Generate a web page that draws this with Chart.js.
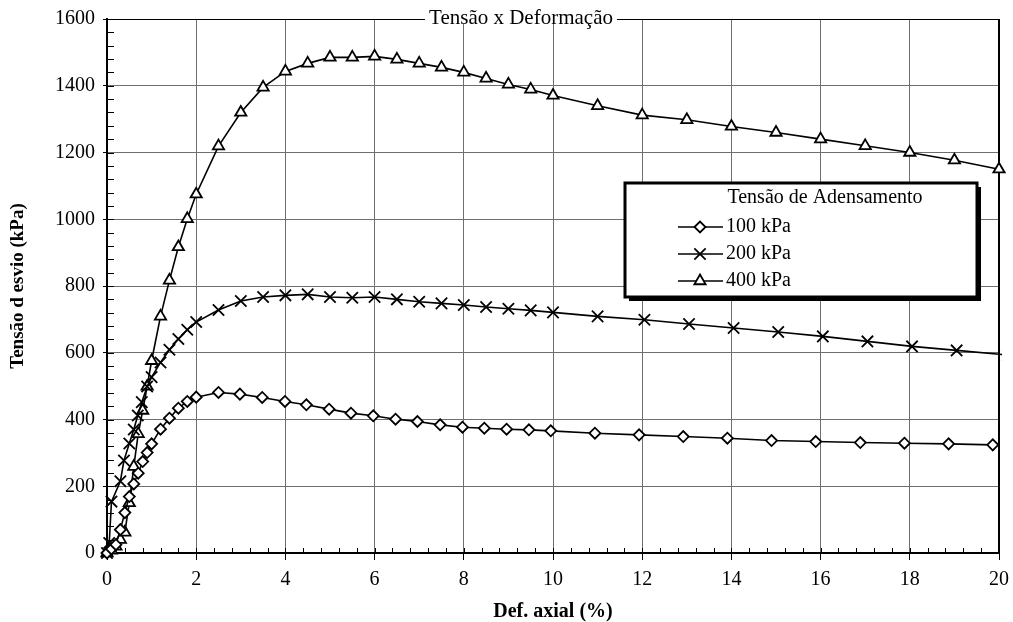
<!DOCTYPE html>
<html>
<head>
<meta charset="utf-8">
<script src="https://cdn.jsdelivr.net/npm/chart.js@4.4.1/dist/chart.umd.min.js"></script>
<style>
  html, body { margin: 0; padding: 0; background: #fff; }
  #grafico { display: block; }
</style>
</head>
<body>
<canvas id="grafico" width="1013" height="622"></canvas>
<script>
// Ensaio triaxial - tensão desvio x deformação axial
const def100 = [0, 0.1, 0.2, 0.3, 0.4, 0.5, 0.6, 0.7, 0.8, 0.9, 1.0, 1.2, 1.4, 1.6, 1.8, 2.0, 2.5, 2.98, 3.48, 3.99, 4.47, 4.98, 5.47, 5.97, 6.47, 6.96, 7.47, 7.97, 8.46, 8.96, 9.46, 9.95, 10.94, 11.93, 12.92, 13.91, 14.9, 15.89, 16.89, 17.88, 18.87, 19.86];
const ten100 = [0, 12, 25, 70, 121, 169, 207, 239, 274, 301, 327, 371, 404, 434, 454, 467, 481, 476, 466, 454, 444, 431, 419, 411, 401, 394, 384, 377, 374, 371, 369, 366, 359, 354, 349, 344, 337, 334, 331, 329, 327, 324];

const def200 = [0, 0.05, 0.1, 0.3, 0.38, 0.5, 0.6, 0.69, 0.78, 0.9, 1.0, 1.2, 1.4, 1.6, 1.8, 2.0, 2.5, 3.0, 3.5, 4.0, 4.5, 5.0, 5.5, 6.0, 6.5, 7.0, 7.5, 8.0, 8.5, 9.0, 9.5, 10.0, 11.0, 12.05, 13.05, 14.05, 15.05, 16.05, 17.05, 18.05, 19.05, 20.2];
const ten200 = [0, 30, 154, 215, 277, 328, 370, 412, 452, 499, 527, 571, 609, 641, 669, 692, 728, 755, 767, 772, 775, 767, 765, 767, 760, 753, 748, 743, 737, 732, 727, 721, 709, 699, 686, 674, 662, 649, 634, 619, 607, 593];

const def400 = [0, 0.1, 0.2, 0.3, 0.4, 0.5, 0.6, 0.7, 0.8, 0.9, 1.0, 1.2, 1.4, 1.6, 1.8, 2.0, 2.5, 3.0, 3.5, 4.0, 4.5, 5.0, 5.5, 6.0, 6.5, 7.0, 7.5, 8.0, 8.5, 9.0, 9.5, 10.0, 11.0, 12.0, 13.0, 14.0, 15.0, 16.0, 17.0, 18.0, 19.0, 20.0];
const ten400 = [0, 8, 20, 40, 62, 150, 259, 357, 427, 499, 576, 709, 817, 917, 1001, 1075, 1219, 1320, 1395, 1443, 1467, 1485, 1485, 1488, 1479, 1467, 1455, 1440, 1422, 1404, 1389, 1371, 1340, 1312, 1298, 1278, 1260, 1240, 1220, 1200, 1177, 1150];

const nomes = ['100 kPa', '200 kPa', '400 kPa'];
const titulo = 'Tensão x Deformação';
const tituloLegenda = 'Tensão de Adensamento';

const fonte = '"Liberation Serif", "Times New Roman", serif';

function pares(xs, ys) {
  return xs.map((v, i) => ({ x: v, y: ys[i] }));
}

// tracinhos menores dos eixos + moldura superior/direita
const ticksMenores = {
  id: 'ticksMenores',
  beforeDatasetsDraw(chart) {
    const { ctx, chartArea: a, scales: { x, y } } = chart;
    ctx.save();
    ctx.strokeStyle = '#000';
    ctx.lineWidth = 1;
    ctx.beginPath();
    for (let i = 0; i <= 50; i++) {
      const px = Math.round(x.getPixelForValue(i * 0.4)) + 0.5;
      ctx.moveTo(px, a.bottom);
      ctx.lineTo(px, a.bottom - 5);
    }
    for (let i = 0; i <= 40; i++) {
      const py = Math.round(y.getPixelForValue(i * 40)) + 0.5;
      ctx.moveTo(a.left, py);
      ctx.lineTo(a.left + 7, py);
    }
    ctx.stroke();
    ctx.beginPath();
    ctx.moveTo(a.left, a.top + 0.5);
    ctx.lineTo(a.right, a.top + 0.5);
    ctx.stroke();
    ctx.lineWidth = 2;
    ctx.beginPath();
    ctx.moveTo(a.right, a.top);
    ctx.lineTo(a.right, a.bottom + 1);
    ctx.stroke();
    ctx.restore();
  }
};

function desenhaMarcador(ctx, ds, x, y) {
  ctx.fillStyle = '#fff';
  ctx.strokeStyle = '#000';
  ctx.lineWidth = ds.pointBorderWidth;
  Chart.helpers.drawPoint(ctx, {
    pointStyle: ds.pointStyle,
    radius: ds.pointRadius,
    rotation: 0,
    borderWidth: ds.pointBorderWidth
  }, x, y);
}

// caixa de legenda com sombra
const legendaCaixa = {
  id: 'legendaCaixa',
  afterDatasetsDraw(chart) {
    const ctx = chart.ctx;
    const bx = 625, by = 183, bw = 352, bh = 114;
    ctx.save();
    ctx.fillStyle = '#000';
    ctx.fillRect(bx + 4, by + 4, bw, bh);
    ctx.fillStyle = '#fff';
    ctx.fillRect(bx, by, bw, bh);
    ctx.lineWidth = 3;
    ctx.strokeStyle = '#000';
    ctx.strokeRect(bx, by, bw, bh);

    ctx.fillStyle = '#000';
    ctx.font = '20px ' + fonte;
    ctx.textAlign = 'center';
    ctx.textBaseline = 'middle';
    ctx.fillText(tituloLegenda, 825, 198);

    chart.data.datasets.forEach((ds, i) => {
      const ly = 227 + i * 27;
      ctx.strokeStyle = '#000';
      ctx.lineWidth = 1.6;
      ctx.beginPath();
      ctx.moveTo(678, ly);
      ctx.lineTo(723, ly);
      ctx.stroke();
      desenhaMarcador(ctx, ds, 700, ly);
      ctx.fillStyle = '#000';
      ctx.textAlign = 'left';
      ctx.fillText(ds.label, 726, ly);
    });
    ctx.restore();
  }
};

// título sobre a borda superior
const tituloBorda = {
  id: 'tituloBorda',
  afterDraw(chart) {
    const ctx = chart.ctx;
    ctx.save();
    ctx.font = '21px ' + fonte;
    const w = ctx.measureText(titulo).width;
    const cx = 521, cy = chart.chartArea.top;
    ctx.fillStyle = '#fff';
    ctx.fillRect(cx - w / 2 - 4, cy - 13, w + 8, 18);
    ctx.fillStyle = '#000';
    ctx.textAlign = 'center';
    ctx.textBaseline = 'middle';
    ctx.fillText(titulo, cx, cy - 1);
    ctx.restore();
  }
};

const estiloBase = {
  borderColor: '#000',
  borderWidth: 1.6,
  pointBackgroundColor: '#fff',
  pointBorderColor: '#000',
  pointBorderWidth: 1.8,
  pointHoverRadius: 5,
  tension: 0,
  fill: false
};

const ctx = document.querySelector('#grafico');

new Chart(ctx, {
  type: 'line',
  data: {
    datasets: [
      Object.assign({}, estiloBase, {
        label: nomes[0],
        data: pares(def100, ten100),
        pointStyle: 'rectRot',
        pointRadius: 5.5,
        clip: false
      }),
      Object.assign({}, estiloBase, {
        label: nomes[1],
        data: pares(def200, ten200),
        pointStyle: 'crossRot',
        pointRadius: 8,
        clip: { left: 10, top: 10, right: 3, bottom: 10 }
      }),
      Object.assign({}, estiloBase, {
        label: nomes[2],
        data: pares(def400, ten400),
        pointStyle: 'triangle',
        pointRadius: 6.5,
        clip: false
      })
    ]
  },
  options: {
    responsive: false,
    animation: false,
    layout: { padding: { left: 0, right: 14, top: 19, bottom: 0 } },
    plugins: {
      legend: { display: false },
      title: { display: false },
      tooltip: { enabled: false }
    },
    scales: {
      x: {
        type: 'linear',
        min: 0,
        max: 20,
        afterFit(scale) {
          scale.height = 69;
          scale.paddingLeft = 0;
          scale.paddingRight = 0;
        },
        ticks: {
          stepSize: 2,
          color: '#000',
          padding: 8,
          maxRotation: 0,
          callback: v => String(v),
          font: { family: fonte, size: 20 }
        },
        grid: {
          color: '#6e6e6e',
          lineWidth: 1,
          tickColor: '#000',
          tickLength: 7,
          drawTicks: true
        },
        border: { color: '#000', width: 2 },
        title: {
          display: true,
          text: 'Def. axial (%)',
          color: '#000',
          padding: { top: 0, bottom: -2 },
          font: { family: fonte, size: 20, weight: 'bold' }
        }
      },
      y: {
        min: 0,
        max: 1600,
        afterFit(scale) {
          scale.width = 107;
          scale.paddingTop = 0;
          scale.paddingBottom = 0;
        },
        ticks: {
          stepSize: 200,
          color: '#000',
          padding: 8,
          callback: v => String(v),
          font: { family: fonte, size: 20 }
        },
        grid: {
          color: '#6e6e6e',
          lineWidth: 1,
          tickColor: '#000',
          tickLength: 4,
          drawTicks: true
        },
        border: { color: '#000', width: 2 },
        title: {
          display: true,
          text: 'Tensão d esvio (kPa)',
          color: '#000',
          padding: { top: 7, bottom: 0 },
          font: { family: fonte, size: 19, weight: 'bold' }
        }
      }
    }
  },
  plugins: [ticksMenores, legendaCaixa, tituloBorda]
});
</script>
</body>
</html>
